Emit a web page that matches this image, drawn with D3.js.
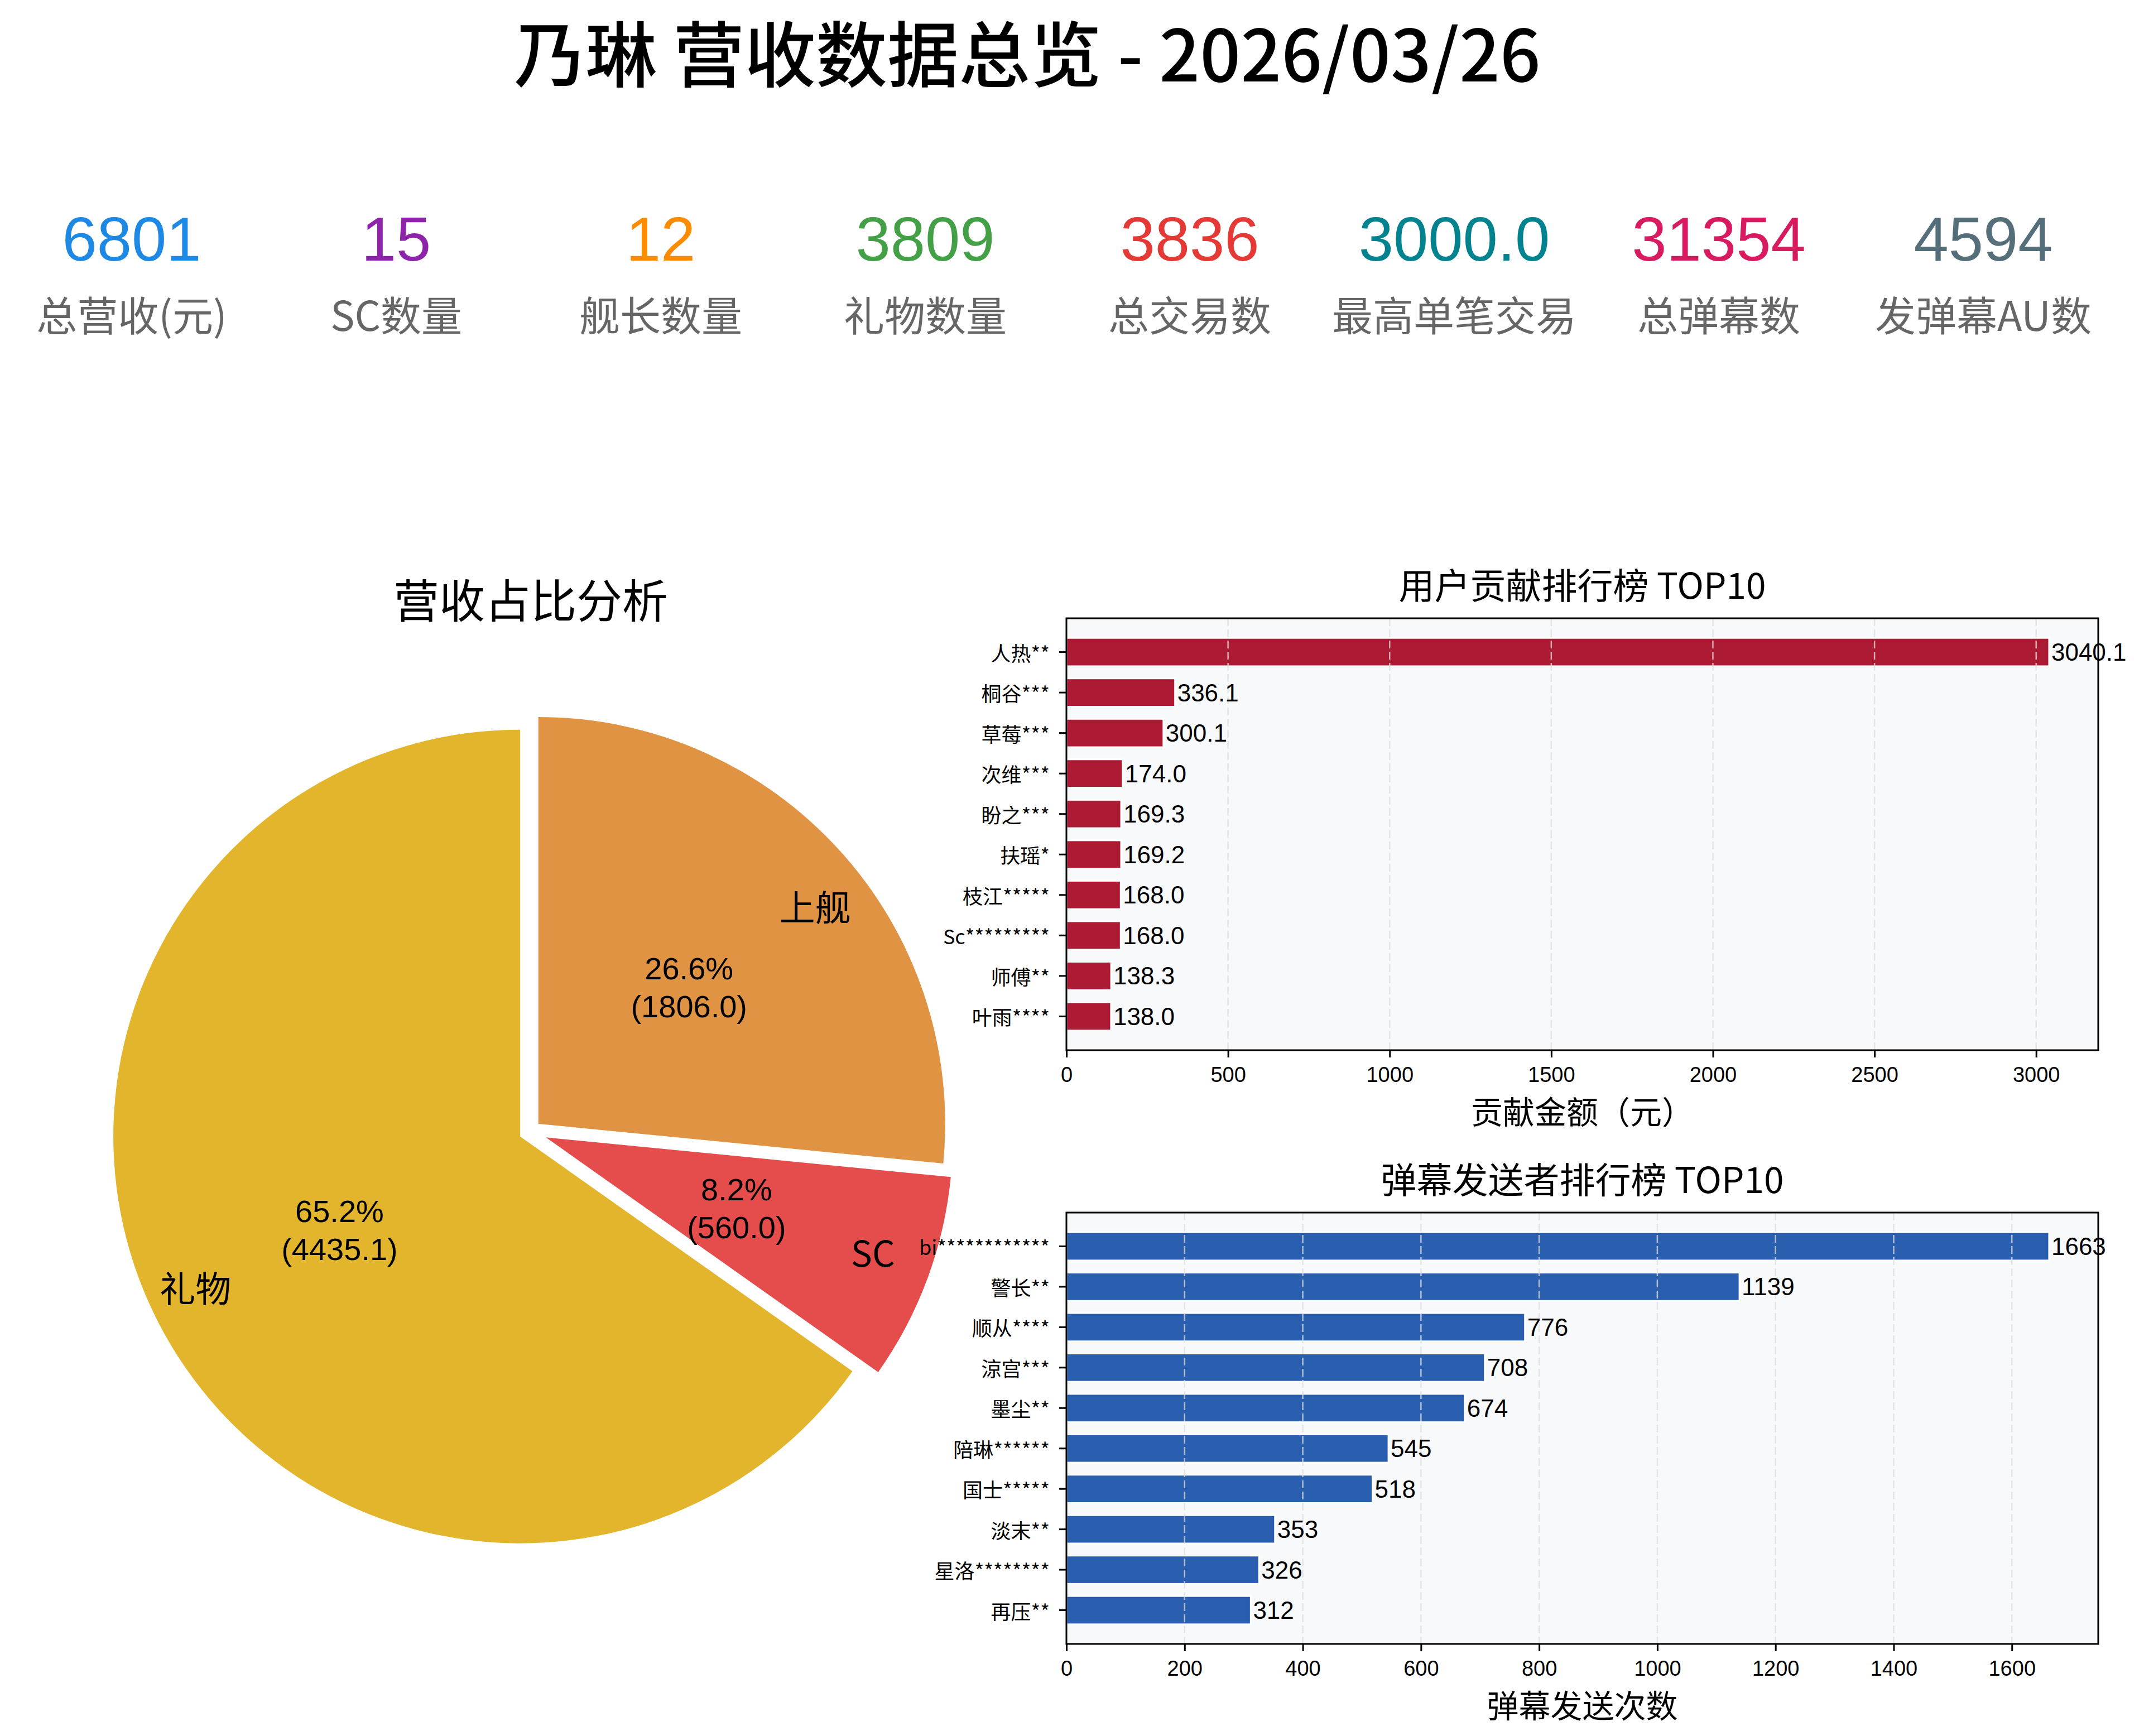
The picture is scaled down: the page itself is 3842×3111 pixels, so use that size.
<!DOCTYPE html>
<html>
<head>
<meta charset="utf-8">
<script src="https://cdn.jsdelivr.net/npm/d3@7"></script>
<style>
  body { margin: 0; background: #fff; }
  svg { display: block; }
  text { font-family: "Noto Sans CJK SC", "Noto Sans", sans-serif; }
  text.num { font-family: "Liberation Sans", "Noto Sans CJK SC", sans-serif; }
</style>
</head>
<body>
<div id="chart"></div>
<script>
const streamer = '乃琳'
const reportDate = '2026/03/26'

const kpiLabels = ['总营收(元)', 'SC数量', '舰长数量', '礼物数量', '总交易数', '最高单笔交易', '总弹幕数', '发弹幕AU数']
const kpiValues = [6801, 15, 12, 3809, 3836, 3000.0, 31354, 4594]
const kpiFormats = ['d', 'd', 'd', 'd', 'd', '.1f', 'd', 'd']
const kpiColors = ['#1E88E5', '#8E24AA', '#FB8C00', '#43A047', '#E53935', '#00838F', '#D81B60', '#546E7A']

const revenueTypes = ['礼物', 'SC', '上舰']
const revenueValues = [4435.1, 560.0, 1806.0]
const revenueColors = ['#E2B52C', '#E54D4D', '#E09343']
const revenueExplode = [0.027, 0.042, 0.028]

const giftUsers = ['人热**', '桐谷***', '草莓***', '次维***', '盼之***', '扶瑶*', '枝江*****', 'Sc*********', '师傅**', '叶雨****']
const giftAmounts = [3040.1, 336.1, 300.1, 174.0, 169.3, 169.2, 168.0, 168.0, 138.3, 138.0]
const giftTicks = [0, 500, 1000, 1500, 2000, 2500, 3000]

const danmakuUsers = ['bi************', '警长**', '顺从****', '涼宫***', '墨尘**', '陪琳******', '国士*****', '淡末**', '星洛********', '再压**']
const danmakuCounts = [1663, 1139, 776, 708, 674, 545, 518, 353, 326, 312]
const danmakuTicks = [0, 200, 400, 600, 800, 1000, 1200, 1400, 1600]

const width = 3842
const height = 3111

const svg = d3.select('#chart')
  .append('svg')
  .attr('width', width)
  .attr('height', height)

svg.append('rect')
  .attr('width', width)
  .attr('height', height)
  .attr('fill', '#fff')

// title
svg.append('text')
  .attr('x', 1841)
  .attr('y', 90)
  .attr('text-anchor', 'middle')
  .attr('dominant-baseline', 'central')
  .attr('font-size', 128)
  .attr('font-weight', 500)
  .text(`${streamer} 营收数据总览 - ${reportDate}`)

// kpi row
const kpiX = d3.scalePoint(d3.range(kpiLabels.length), [236, 3554])

const kpi = svg.append('g')
  .selectAll('g')
  .data(kpiLabels)
  .join('g')
  .attr('transform', (_, i) => `translate(${kpiX(i)}, 0)`)

kpi.append('text')
  .attr('class', 'num')
  .attr('y', 467)
  .attr('text-anchor', 'middle')
  .attr('font-size', 112)
  .attr('fill', (_, i) => kpiColors[i])
  .text((_, i) => d3.format(kpiFormats[i])(kpiValues[i]))

kpi.append('text')
  .attr('y', 561)
  .attr('text-anchor', 'middle')
  .attr('dominant-baseline', 'central')
  .attr('font-size', 73)
  .attr('fill', '#666')
  .text(d => d)

// pie
const pieCenter = [949.6, 2027.6]
const pieRadius = 729

svg.append('text')
  .attr('x', 951)
  .attr('y', 1071)
  .attr('text-anchor', 'middle')
  .attr('dominant-baseline', 'central')
  .attr('font-size', 82)
  .text('营收占比分析')

const revenueTotal = d3.sum(revenueValues)
const slices = d3.pie()
  .sort(null)
  .startAngle(0)
  .endAngle(-2 * Math.PI)(revenueValues)

const arc = d3.arc().innerRadius(0).outerRadius(pieRadius)

const pieG = svg.append('g')
  .attr('transform', `translate(${pieCenter[0]}, ${pieCenter[1]})`)

const slice = pieG.selectAll('g')
  .data(slices)
  .join('g')
  .attr('transform', (d, i) => {
    const mid = (d.startAngle + d.endAngle) / 2
    const off = revenueExplode[i] * pieRadius
    return `translate(${Math.sin(mid) * off}, ${-Math.cos(mid) * off})`
  })

slice.append('path')
  .attr('d', arc)
  .attr('fill', (_, i) => revenueColors[i])

const polar = (d, r) => {
  const mid = (d.startAngle + d.endAngle) / 2
  return [Math.sin(mid) * r, -Math.cos(mid) * r]
}

slice.append('text')
  .attr('x', d => polar(d, pieRadius * 0.8)[0])
  .attr('y', d => polar(d, pieRadius * 0.8)[1])
  .attr('text-anchor', d => polar(d, 1)[0] > 0 ? 'start' : 'end')
  .attr('dominant-baseline', 'central')
  .attr('font-size', 64)
  .text((_, i) => revenueTypes[i])

// percentage + amount, two lines
const pctLines = [
  d => `${(d.value / revenueTotal * 100).toFixed(1)}%`,
  d => `(${d.value.toFixed(1)})`
]
pctLines.forEach((line, k) => {
  slice.append('text')
    .attr('class', 'num')
    .attr('x', d => polar(d, pieRadius * 0.5)[0])
    .attr('y', d => polar(d, pieRadius * 0.5)[1] + (k === 0 ? -34 : 34))
    .attr('text-anchor', 'middle')
    .attr('dominant-baseline', 'central')
    .attr('font-size', 56)
    .text(line)
})

// ranking panels
function rankPanel({ top, bottom, users, values, ticks, color, title, xLabel, fmt }) {
  const left = 1911
  const right = 3760

  const x = d3.scaleLinear([0, d3.max(values) * 1.05], [left, right])
  const y = d3.scaleBand(users, [top, bottom])
    .paddingInner(0.3)
    .paddingOuter(0.485)

  const g = svg.append('g')

  g.append('rect')
    .attr('x', left)
    .attr('y', top)
    .attr('width', right - left)
    .attr('height', bottom - top)
    .attr('fill', '#F8F9FA')

  g.append('g')
    .selectAll('rect')
    .data(values)
    .join('rect')
    .attr('x', x(0))
    .attr('y', (_, i) => y(users[i]))
    .attr('width', v => x(v) - x(0))
    .attr('height', y.bandwidth())
    .attr('fill', color)
    .attr('stroke', '#fff')
    .attr('stroke-width', 3)

  g.append('g')
    .selectAll('line')
    .data(ticks)
    .join('line')
    .attr('x1', x)
    .attr('x2', x)
    .attr('y1', top)
    .attr('y2', bottom)
    .attr('stroke', '#dddddd')
    .attr('stroke-opacity', 0.75)
    .attr('stroke-width', 2.5)
    .attr('stroke-dasharray', '14,6')

  g.append('g')
    .selectAll('text')
    .data(values)
    .join('text')
    .attr('class', 'num')
    .attr('x', v => x(v) + 4)
    .attr('y', (_, i) => y(users[i]) + y.bandwidth() / 2)
    .attr('dominant-baseline', 'central')
    .attr('font-size', 44)
    .text(v => d3.format(fmt)(v))

  g.append('rect')
    .attr('x', left)
    .attr('y', top)
    .attr('width', right - left)
    .attr('height', bottom - top)
    .attr('fill', 'none')
    .attr('stroke', '#000')
    .attr('stroke-width', 3)

  const xAxis = d3.axisBottom(x)
    .tickValues(ticks)
    .tickFormat(d3.format('d'))
    .tickSize(13)
    .tickPadding(17)

  const ax = g.append('g')
    .attr('transform', `translate(0, ${bottom})`)
    .call(xAxis)
  ax.select('.domain').remove()
  ax.selectAll('.tick line').attr('stroke', '#000').attr('stroke-width', 3)
  ax.selectAll('.tick text')
    .attr('class', 'num')
    .attr('font-size', 38)
    .attr('font-family', null)
    .attr('fill', '#000')

  const yAxis = d3.axisLeft(y)
    .tickSize(13)
    .tickPadding(17)

  const ay = g.append('g')
    .attr('transform', `translate(${left}, 0)`)
    .call(yAxis)
  ay.select('.domain').remove()
  ay.selectAll('.tick line').attr('stroke', '#000').attr('stroke-width', 3)
  ay.selectAll('.tick text')
    .attr('font-size', 36)
    .attr('font-family', '"Noto Sans CJK SC", "Noto Sans", sans-serif')
    .attr('fill', '#000')
    .attr('dy', null)
    .attr('dominant-baseline', 'central')

  g.append('text')
    .attr('x', (left + right) / 2)
    .attr('y', top - 63)
    .attr('text-anchor', 'middle')
    .attr('dominant-baseline', 'central')
    .attr('font-size', 64)
    .text(title)

  g.append('text')
    .attr('x', (left + right) / 2)
    .attr('y', bottom + 107)
    .attr('text-anchor', 'middle')
    .attr('dominant-baseline', 'central')
    .attr('font-size', 57)
    .text(xLabel)
}

rankPanel({
  top: 1108,
  bottom: 1882,
  users: giftUsers,
  values: giftAmounts,
  ticks: giftTicks,
  color: '#AC1A33',
  title: '用户贡献排行榜 TOP10',
  xLabel: '贡献金额（元）',
  fmt: '.1f'
})

rankPanel({
  top: 2173,
  bottom: 2946,
  users: danmakuUsers,
  values: danmakuCounts,
  ticks: danmakuTicks,
  color: '#2A5FB0',
  title: '弹幕发送者排行榜 TOP10',
  xLabel: '弹幕发送次数',
  fmt: 'd'
})
</script>
</body>
</html>
